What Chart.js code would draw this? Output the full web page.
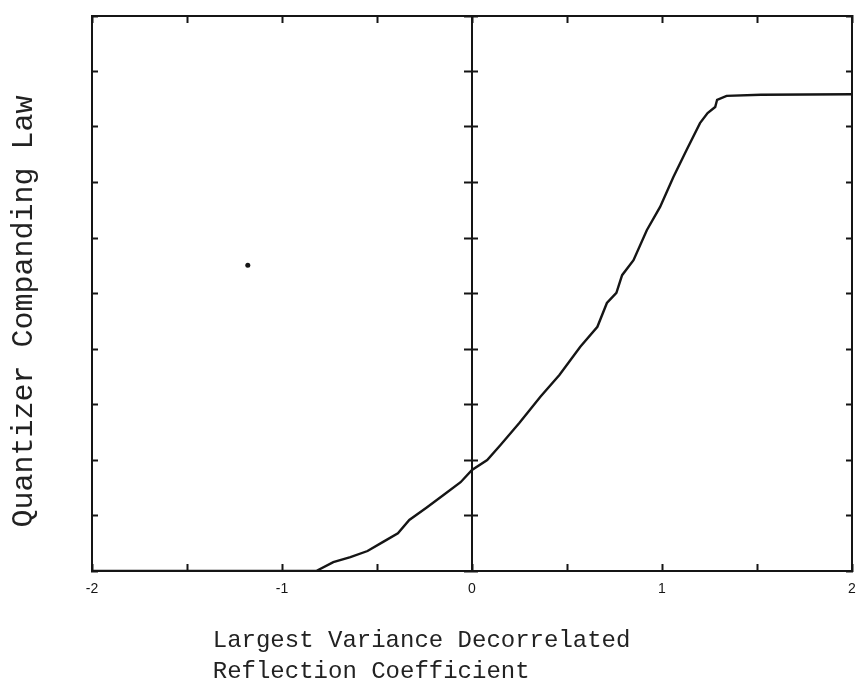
<!DOCTYPE html>
<html>
<head>
<meta charset="utf-8">
<title>Quantizer Companding Law</title>
<script src="https://cdn.jsdelivr.net/npm/chart.js@4.4.1/dist/chart.umd.min.js"></script>
<style>
  html, body { margin: 0; padding: 0; background: #fff; }
  #wrap { width: 859px; height: 694px; position: relative; }
</style>
</head>
<body>
<div id="wrap"><canvas id="law"></canvas></div>
<script>
// Companding curve, sampled along the reflection coefficient axis
const reflCoef = [-2, -0.82, -0.73, -0.64, -0.55, -0.47, -0.39, -0.33, -0.24, -0.15, -0.06, 0.0,
                  0.08, 0.15, 0.25, 0.36, 0.46, 0.57, 0.66, 0.71, 0.76, 0.79, 0.85, 0.92, 0.99,
                  1.06, 1.13, 1.2, 1.24, 1.28, 1.29, 1.34, 1.52, 2.0];
const compandLaw = [0, 0, 0.16, 0.25, 0.36, 0.52, 0.68, 0.92, 1.14, 1.37, 1.60, 1.82,
                    2.0, 2.27, 2.67, 3.14, 3.53, 4.04, 4.40, 4.83, 5.01, 5.33, 5.60, 6.14, 6.56,
                    7.10, 7.59, 8.07, 8.25, 8.36, 8.49, 8.56, 8.58, 8.59];

// lone plotted dot
const strayX = [-1.18];
const strayY = [5.51];

// axis ticks
const xTickValues = [-2, -1.5, -1, -0.5, 0, 0.5, 1, 1.5, 2];
const xTickLabels = ['-2', '', '-1', '', '0', '', '1', '', '2'];
const yTickValues = [0, 1, 2, 3, 4, 5, 6, 7, 8, 9, 10];

const ink = '#151515';
const mono = '"Liberation Mono", "Courier New", monospace';

const toPoints = (xs, ys) => xs.map((x, i) => ({ x: x, y: ys[i] }));
const setTicks = values => scale => { scale.ticks = values.map(v => ({ value: v })); };

// frame side with inward tick marks
function frameAxis(axis, position, values, tickLength, extra) {
  const range = axis === 'x' ? { min: -2, max: 2 } : { min: 0, max: 10 };
  return Object.assign({
    type: 'linear',
    axis: axis,
    position: position,
    min: range.min,
    max: range.max,
    afterBuildTicks: setTicks(values),
    grid: { drawOnChartArea: false, drawTicks: true, tickLength: tickLength, tickWidth: 2, tickColor: ink },
    border: { display: true, color: ink, width: 2 },
    ticks: { display: false }
  }, extra || {});
}

// axes that sit on the frame or at x = 0 take no layout room
const noWidth = { afterFit: s => { s.width = 0; } };

new Chart(document.getElementById('law'), {
  type: 'scatter',
  data: {
    datasets: [
      {
        data: toPoints(reflCoef, compandLaw),
        showLine: true,
        borderColor: ink,
        borderWidth: 2.4,
        pointRadius: 0,
        tension: 0,
        xAxisID: 'x',
        yAxisID: 'y'
      },
      {
        data: toPoints(strayX, strayY),
        pointRadius: 2.5,
        backgroundColor: ink,
        borderWidth: 0,
        xAxisID: 'x',
        yAxisID: 'y'
      }
    ]
  },
  options: {
    responsive: true,
    maintainAspectRatio: false,
    animation: false,
    layout: { padding: { top: 16, right: 7, bottom: 0, left: 0 } },
    plugins: { legend: { display: false }, tooltip: { enabled: false } },
    scales: {
      x: frameAxis('x', 'bottom', xTickValues, -7, {
        // labels sit well below the axis, so don't let the end labels pull the plot in
        afterFit: s => { s.height = 123; s.paddingLeft = 4; s.paddingRight = 4; },
        ticks: {
          display: true,
          autoSkip: false,
          maxRotation: 0,
          padding: 17,
          color: ink,
          font: { family: '"Liberation Sans", Arial, sans-serif', size: 14 },
          callback: (value, index) => xTickLabels[index]
        },
        title: {
          display: true,
          text: ['Largest Variance Decorrelated       ', 'Reflection Coefficient              '],
          color: '#222',
          font: { family: mono, size: 24, lineHeight: 1.3 },
          padding: { top: 0, bottom: 7 }
        }
      }),
      xTop: frameAxis('x', 'top', xTickValues, -7, {
        afterFit: s => { s.height = 0; }
      }),
      y: frameAxis('y', 'left', yTickValues, -6, {
        afterFit: s => { s.width = 92; },
        title: {
          display: true,
          text: 'Quantizer Companding Law  ',
          color: '#222',
          font: { family: mono, size: 30, lineHeight: 1.2 },
          padding: { top: 6, bottom: 0 }
        }
      }),
      yRight: frameAxis('y', 'right', yTickValues, -6, noWidth),
      // vertical line at zero, ticks crossing both sides
      yZeroL: frameAxis('y', { x: 0 }, yTickValues, 7, noWidth),
      yZeroR: frameAxis('y', { x: 0 }, yTickValues, -7, noWidth)
    }
  }
});
</script>
</body>
</html>
